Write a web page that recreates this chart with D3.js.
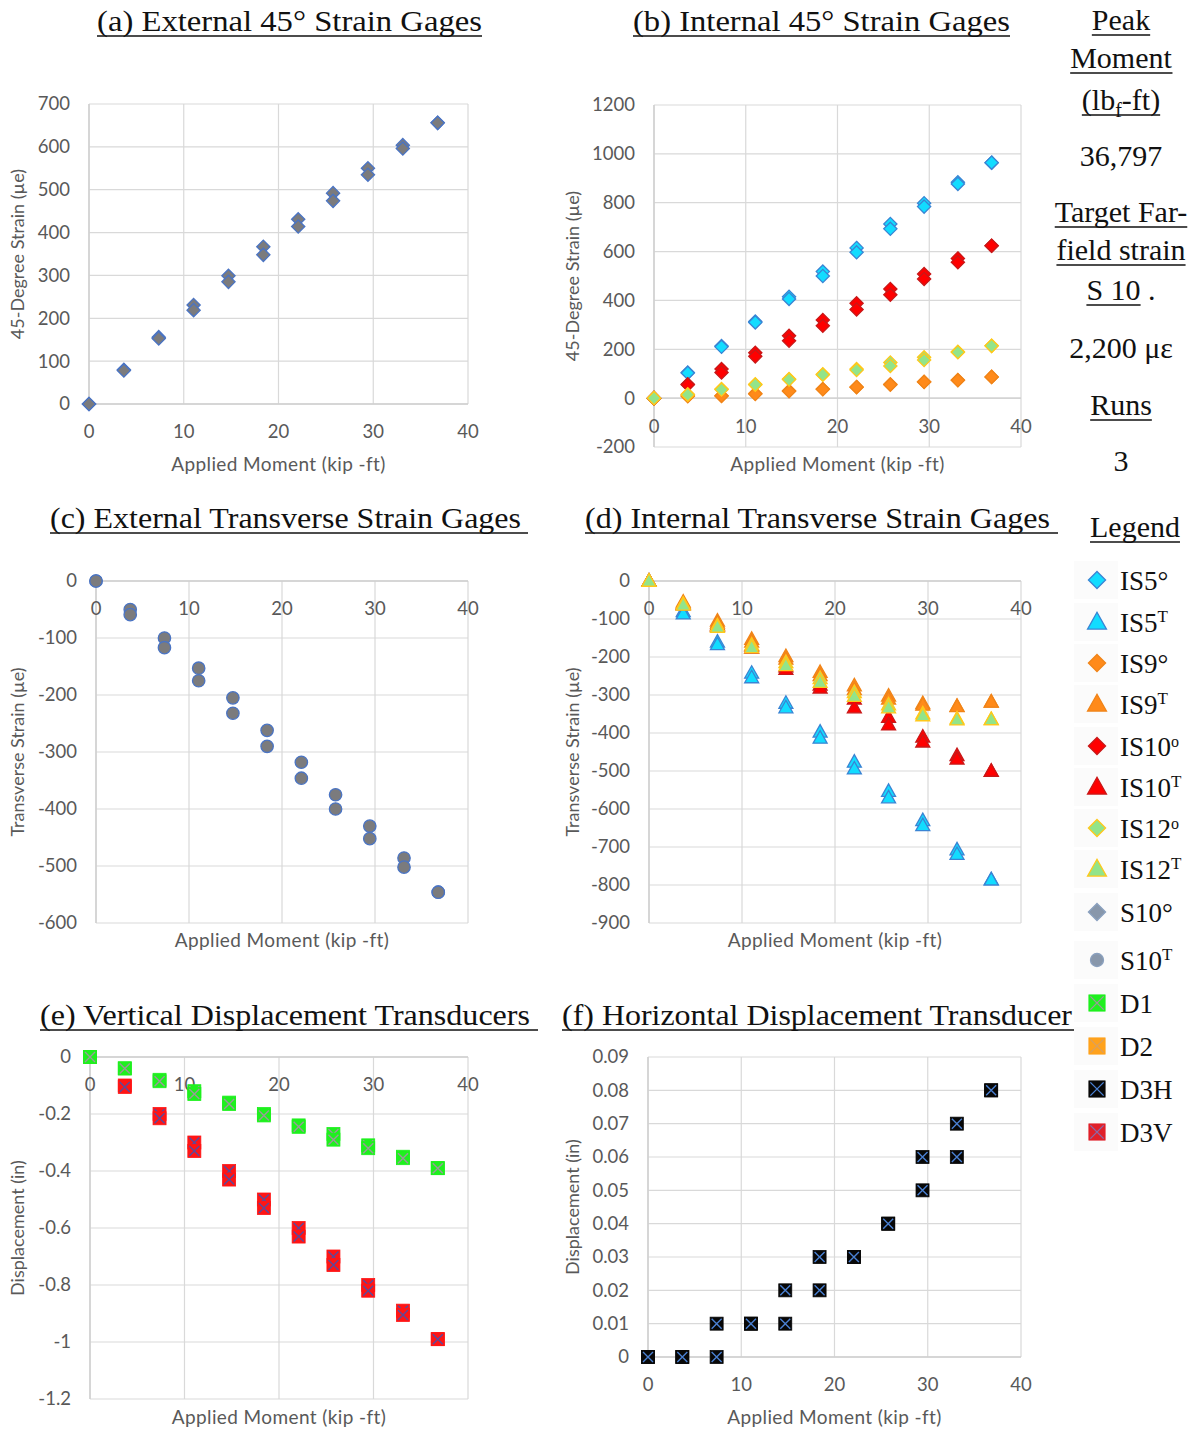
<!DOCTYPE html>
<html>
<head>
<meta charset="utf-8">
<script src="https://cdnjs.cloudflare.com/ajax/libs/d3/7.8.5/d3.min.js"></script>
<style>
  body { margin: 0; background: #fff; }
  svg text { font-kerning: normal; }
</style>
</head>
<body>
<svg id="fig" width="1201" height="1429"></svg>
<script>
// Applied moment at each load step (kip-ft)
const moment = [0, 3.68, 7.36, 11.04, 14.72, 18.40, 22.08, 25.76, 29.44, 33.12, 36.80];
const xTicks = [0, 10, 20, 30, 40];

// (a) external 45-degree gage S10, two runs (µe)
const s10DiagRun1 = [0, 80, 156, 231, 299, 367, 431, 492, 550, 604, 656];
const s10DiagRun2 = [0, 78, 153, 219, 285, 348, 414, 474, 535, 596, 656];

// (b) internal 45-degree gages (µe)
const is5DiagRun1  = [0, 105, 213, 314, 415, 518, 615, 713, 798, 884, 964];
const is5DiagRun2  = [0, 103, 210, 310, 406, 500, 597, 693, 784, 877, 964];
const is9DiagRun1  = [0, 10, 10, 19, 30, 37, 46, 57, 67, 74, 87];
const is9DiagRun2  = [0, 8, 9, 17, 28, 36, 45, 55, 66, 73, 87];
const is10DiagRun1 = [0, 57, 119, 186, 255, 320, 388, 447, 508, 572, 624];
const is10DiagRun2 = [0, 55, 105, 171, 235, 296, 363, 423, 488, 556, 624];
const is12DiagRun1 = [0, 16, 37, 57, 78, 98, 119, 146, 167, 190, 214];
const is12DiagRun2 = [0, 14, 35, 55, 76, 96, 115, 132, 156, 188, 214];

// (c) external transverse gage S10 (µe)
const s10TransRun1 = [0, -50, -100, -153, -205, -262, -318, -375, -430, -486, -546];
const s10TransRun2 = [0, -59, -117, -175, -232, -290, -346, -400, -452, -502, -546];

// (d) internal transverse gages (µe)
const is5TransRun1  = [0, -80, -160, -242, -321, -397, -476, -553, -630, -707, -786];
const is5TransRun2  = [0, -86, -167, -254, -333, -413, -494, -570, -643, -719, -786];
const is9TransRun1  = [0, -55, -105, -153, -198, -240, -275, -302, -322, -329, -318];
const is9TransRun2  = [0, -58, -110, -160, -205, -248, -285, -310, -326, -330, -318];
const is10TransRun1 = [0, -60, -115, -170, -225, -273, -310, -358, -410, -459, -500];
const is10TransRun2 = [0, -62, -118, -176, -232, -281, -333, -378, -423, -468, -500];
const is12TransRun1 = [0, -60, -117, -168, -214, -256, -293, -325, -349, -362, -364];
const is12TransRun2 = [0, -63, -121, -175, -222, -266, -303, -333, -354, -365, -364];

// (e) vertical displacement transducers (in)
const d1Run1  = [0, -0.04, -0.08, -0.12, -0.16, -0.20, -0.24, -0.27, -0.31, -0.35, -0.39];
const d1Run2  = [0, -0.04, -0.085, -0.13, -0.165, -0.205, -0.245, -0.29, -0.32, -0.355, -0.39];
const d3vRun1 = [0, -0.10, -0.20, -0.30, -0.40, -0.50, -0.60, -0.70, -0.80, -0.89, -0.99];
const d3vRun2 = [0, -0.105, -0.215, -0.33, -0.43, -0.53, -0.63, -0.73, -0.82, -0.905, -0.99];

// (f) horizontal displacement transducer (in)
const d3hRun1 = [0, 0, 0, 0.01, 0.01, 0.02, 0.03, 0.04, 0.05, 0.06, 0.08];
const d3hRun2 = [0, 0, 0.01, 0.01, 0.02, 0.03, 0.03, 0.04, 0.06, 0.07, 0.08];

// Summary column
const infoLines = [
  {text: "Peak", u: true},
  {text: "Moment", u: true},
  {text: "(lbf-ft)", u: true},
  {text: "36,797", u: false},
  {text: "Target Far-", u: true},
  {text: "field strain", u: true},
  {text: "S 10 .", u: true},
  {text: "2,200 με", u: false},
  {text: "Runs", u: true},
  {text: "3", u: false}
];

// Marker styles
const sty = {
  IS5:  {fill: "#12dcff", stroke: "#3a84d4"},
  IS9:  {fill: "#ff8a1a", stroke: "#f08418"},
  IS10: {fill: "#ff0000", stroke: "#c81818"},
  IS12: {fill: "#92e48a", stroke: "#ffc81a"},
  S10:  {fill: "#7b7b7d", stroke: "#4a74c4"},
  S10L: {fill: "#8897ab", stroke: "#8aa0bf"},
  D1:   {fill: "#1ef01e", stroke: "#9a9a9a"},
  D2:   {fill: "#ffa21c", stroke: "#d9a060"},
  D3H:  {fill: "#080808", stroke: "#4a80d2"},
  D3V:  {fill: "#ff1414", stroke: "#5a4a9c"}
};

const SANS = "Lato, 'Open Sans', sans-serif";
const SERIF = "'Liberation Serif', 'DejaVu Serif', serif";
const GRID = "#d9d9d9";
const LABEL = "#595959";

const svg = d3.select("#fig");

// marker shapes centred on the origin
function diamondPath(s) { return `M0,${-s}L${s},0L0,${s}L${-s},0Z`; }
function trianglePath(w, h) { return `M0,${-h * 0.58}L${w / 2},${h * 0.42}L${-w / 2},${h * 0.42}Z`; }

function drawMarker(g, shape, st, scale) {
  const k = scale || 1;
  if (shape === "diamond") {
    g.append("path").attr("d", diamondPath(6.6 * k)).attr("fill", st.fill)
      .attr("stroke", st.stroke).attr("stroke-width", 1.3);
  } else if (shape === "triangle") {
    g.append("path").attr("d", trianglePath(14 * k, 12.5 * k)).attr("fill", st.fill)
      .attr("stroke", st.stroke).attr("stroke-width", 1.3);
  } else if (shape === "circle") {
    g.append("circle").attr("r", 6.2 * k).attr("fill", st.fill)
      .attr("stroke", st.stroke).attr("stroke-width", 1.3);
  } else if (shape === "squareX") {
    const h = 6.5 * k;
    g.append("rect").attr("x", -h).attr("y", -h).attr("width", 2 * h).attr("height", 2 * h)
      .attr("fill", st.fill).attr("stroke", st.fill).attr("stroke-width", 0.8);
    g.append("path").attr("d", `M${-h + 1.5},${-h + 1.5}L${h - 1.5},${h - 1.5}M${h - 1.5},${-h + 1.5}L${-h + 1.5},${h - 1.5}`)
      .attr("stroke", st.stroke).attr("stroke-width", 1.4).attr("fill", "none");
  }
}

function fmt(v) { return String(+v.toFixed(3)); }

function panel(o) {
  const x = d3.scaleLinear().domain([0, 40]).range([o.L, o.R]);
  const y = d3.scaleLinear().domain(o.yDomain).range([o.B, o.T]);
  const g = svg.append("g");
  const yTicks = d3.range(0, Math.round((o.yDomain[1] - o.yDomain[0]) / o.yStep) + 1)
    .map(i => +(o.yDomain[0] + i * o.yStep).toFixed(4));

  // grid
  g.selectAll(".gy").data(yTicks).join("line")
    .attr("x1", o.L).attr("x2", o.R).attr("y1", d => y(d)).attr("y2", d => y(d))
    .attr("stroke", GRID).attr("stroke-width", 1.2);
  g.selectAll(".gx").data(xTicks).join("line")
    .attr("x1", d => x(d)).attr("x2", d => x(d)).attr("y1", o.T).attr("y2", o.B)
    .attr("stroke", GRID).attr("stroke-width", 1.2);
  // axis lines
  g.append("line").attr("x1", o.L).attr("x2", o.R).attr("y1", y(0)).attr("y2", y(0))
    .attr("stroke", "#cfcfcf").attr("stroke-width", 1.4);
  g.append("line").attr("x1", x(0)).attr("x2", x(0)).attr("y1", o.T).attr("y2", o.B)
    .attr("stroke", "#cfcfcf").attr("stroke-width", 1.4);

  // tick labels
  g.selectAll(".ty").data(yTicks).join("text")
    .attr("x", o.L - 19).attr("y", d => y(d)).attr("dy", "0.35em")
    .attr("text-anchor", "end").attr("font-family", SANS).attr("font-size", 18.5)
    .attr("fill", LABEL).text(fmt);
  g.selectAll(".tx").data(xTicks).join("text")
    .attr("x", d => x(d)).attr("y", y(0) + 28).attr("dy", "0.35em")
    .attr("text-anchor", "middle").attr("font-family", SANS).attr("font-size", 18.5)
    .attr("fill", LABEL).text(d => d);

  // axis titles
  g.append("text").attr("x", (o.L + o.R) / 2).attr("y", o.xTitleY).attr("dy", "0.35em")
    .attr("text-anchor", "middle").attr("font-family", SANS).attr("font-size", 19)
    .attr("letter-spacing", 0.4).attr("fill", LABEL).text("Applied Moment (kip -ft)");
  g.append("text")
    .attr("transform", `translate(${o.yTitleX},${(o.T + o.B) / 2}) rotate(-90)`)
    .attr("dy", "0.35em").attr("text-anchor", "middle").attr("font-family", SANS)
    .attr("font-size", 18).attr("fill", LABEL).text(o.yTitle);

  // series
  o.series.forEach(s => {
    const pts = s.values.map((v, i) => ({x: moment[i], y: v})).filter(p => p.y !== null);
    g.append("g").selectAll("g").data(pts).join("g")
      .attr("transform", p => `translate(${x(p.x)},${y(p.y)})`)
      .each(function () { drawMarker(d3.select(this), s.shape, s.style); });
  });

  // panel title, underlined
  svg.append("text").attr("x", o.titleX).attr("y", o.titleY)
    .attr("font-family", SERIF).attr("font-size", 30).attr("fill", "#111")
    .attr("textLength", o.titleW).attr("lengthAdjust", "spacingAndGlyphs").text(o.title);
  svg.append("line").attr("x1", o.titleX).attr("x2", o.titleX + o.titleW + (o.titleExtra || 0))
    .attr("y1", o.titleY + 5).attr("y2", o.titleY + 5).attr("stroke", "#111").attr("stroke-width", 1.6);
}

panel({
  L: 89, R: 468, T: 104, B: 404, yDomain: [0, 700], yStep: 100,
  xTitleY: 464, yTitleX: 18, yTitle: "45-Degree Strain (µe)",
  title: "(a) External 45° Strain Gages", titleX: 97, titleY: 31, titleW: 385,
  series: [
    {values: s10DiagRun1, shape: "diamond", style: sty.S10},
    {values: s10DiagRun2, shape: "diamond", style: sty.S10}
  ]
});

panel({
  L: 654, R: 1021, T: 105, B: 447, yDomain: [-200, 1200], yStep: 200,
  xTitleY: 464, yTitleX: 573, yTitle: "45-Degree Strain (µe)",
  title: "(b) Internal 45° Strain Gages", titleX: 633, titleY: 31, titleW: 377,
  series: [
    {values: is5DiagRun1, shape: "diamond", style: sty.IS5},
    {values: is5DiagRun2, shape: "diamond", style: sty.IS5},
    {values: is9DiagRun1, shape: "diamond", style: sty.IS9},
    {values: is9DiagRun2, shape: "diamond", style: sty.IS9},
    {values: is10DiagRun1, shape: "diamond", style: sty.IS10},
    {values: is10DiagRun2, shape: "diamond", style: sty.IS10},
    {values: is12DiagRun1, shape: "diamond", style: sty.IS12},
    {values: is12DiagRun2, shape: "diamond", style: sty.IS12}
  ]
});

panel({
  L: 96, R: 468, T: 581, B: 923, yDomain: [-600, 0], yStep: 100,
  xTitleY: 940, yTitleX: 18, yTitle: "Transverse Strain (µe)",
  title: "(c) External Transverse Strain Gages", titleX: 50, titleY: 528, titleW: 471, titleExtra: 7,
  series: [
    {values: s10TransRun1, shape: "circle", style: sty.S10},
    {values: s10TransRun2, shape: "circle", style: sty.S10}
  ]
});

panel({
  L: 649, R: 1021, T: 581, B: 923, yDomain: [-900, 0], yStep: 100,
  xTitleY: 940, yTitleX: 573, yTitle: "Transverse Strain (µe)",
  title: "(d) Internal Transverse Strain Gages", titleX: 585, titleY: 528, titleW: 465, titleExtra: 8,
  series: [
    {values: is5TransRun1, shape: "triangle", style: sty.IS5},
    {values: is5TransRun2, shape: "triangle", style: sty.IS5},
    {values: is10TransRun1, shape: "triangle", style: sty.IS10},
    {values: is10TransRun2, shape: "triangle", style: sty.IS10},
    {values: is9TransRun1, shape: "triangle", style: sty.IS9},
    {values: is9TransRun2, shape: "triangle", style: sty.IS9},
    {values: is12TransRun1, shape: "triangle", style: sty.IS12},
    {values: is12TransRun2, shape: "triangle", style: sty.IS12}
  ]
});

panel({
  L: 90, R: 468, T: 1057, B: 1399, yDomain: [-1.2, 0], yStep: 0.2,
  xTitleY: 1417, yTitleX: 18, yTitle: "Displacement (in)",
  title: "(e) Vertical Displacement Transducers", titleX: 40, titleY: 1025, titleW: 490, titleExtra: 8,
  series: [
    {values: d3vRun1, shape: "squareX", style: sty.D3V},
    {values: d3vRun2, shape: "squareX", style: sty.D3V},
    {values: d1Run1, shape: "squareX", style: sty.D1},
    {values: d1Run2, shape: "squareX", style: sty.D1}
  ]
});

panel({
  L: 648, R: 1021, T: 1057, B: 1357, yDomain: [0, 0.09], yStep: 0.01,
  xTitleY: 1417, yTitleX: 573, yTitle: "Displacement (in)",
  title: "(f) Horizontal Displacement Transducer", titleX: 562, titleY: 1025, titleW: 510, titleExtra: 8,
  series: [
    {values: d3hRun1, shape: "squareX", style: sty.D3H},
    {values: d3hRun2, shape: "squareX", style: sty.D3H}
  ]
});

// Summary column on the right
const infoBase = [30, 68, 110, 166, 222, 260, 300, 358, 415, 471];
infoLines.forEach((ln, i) => {
  const t = svg.append("text").attr("x", 1121).attr("y", infoBase[i])
    .attr("text-anchor", "middle").attr("font-family", SERIF).attr("font-size", 30).attr("fill", "#111");
  if (ln.text === "(lbf-ft)") {
    t.append("tspan").text("(lb");
    t.append("tspan").attr("font-size", 20).attr("dy", 7).text("f");
    t.append("tspan").attr("dy", -7).text("-ft)");
  } else if (ln.text === "S 10 .") {
    t.append("tspan").text("S 10");
    t.append("tspan").text(" .");
  } else {
    t.text(ln.text);
  }
  if (ln.u) {
    const bb = t.node().getBBox();
    let x1 = bb.x, x2 = bb.x + bb.width;
    if (ln.text === "S 10 .") {
      const first = t.select("tspan").node();
      x2 = x1 + first.getComputedTextLength();
    }
    svg.append("line").attr("x1", x1).attr("x2", x2)
      .attr("y1", infoBase[i] + 5).attr("y2", infoBase[i] + 5)
      .attr("stroke", "#111").attr("stroke-width", 1.6);
  }
});

// Legend
const legendTitle = svg.append("text").attr("x", 1135).attr("y", 537).attr("text-anchor", "middle")
  .attr("font-family", SERIF).attr("font-size", 30).attr("fill", "#111").text("Legend");
{
  const bb = legendTitle.node().getBBox();
  svg.append("line").attr("x1", bb.x).attr("x2", bb.x + bb.width).attr("y1", 542).attr("y2", 542)
    .attr("stroke", "#111").attr("stroke-width", 1.6);
}

const legendItems = [
  {name: "IS5", sup: "°", shape: "diamond", style: sty.IS5},
  {name: "IS5", sup: "T", shape: "triangle", style: sty.IS5},
  {name: "IS9", sup: "°", shape: "diamond", style: sty.IS9},
  {name: "IS9", sup: "T", shape: "triangle", style: sty.IS9},
  {name: "IS10", sup: "o", shape: "diamond", style: sty.IS10},
  {name: "IS10", sup: "T", shape: "triangle", style: sty.IS10},
  {name: "IS12", sup: "o", shape: "diamond", style: sty.IS12},
  {name: "IS12", sup: "T", shape: "triangle", style: sty.IS12},
  {name: "S10", sup: "°", shape: "diamond", style: sty.S10L},
  {name: "S10", sup: "T", shape: "circle", style: sty.S10L},
  {name: "D1", sup: "", shape: "squareX", style: sty.D1},
  {name: "D2", sup: "", shape: "squareX", style: sty.D2},
  {name: "D3H", sup: "", shape: "squareX", style: sty.D3H},
  {name: "D3V", sup: "", shape: "squareX", style: {fill: "#e0202a", stroke: "#8a6aa8"}}
];
const legendY = [580, 622, 663, 704, 746, 787, 828, 869, 912, 960, 1003, 1046, 1089, 1132];
const legendScale = {diamond: 1.3, triangle: 1.35, circle: 1.05, squareX: 1.25};

legendItems.forEach((it, i) => {
  const cy = legendY[i];
  svg.append("rect").attr("x", 1074).attr("y", cy - 19).attr("width", 44).attr("height", 38)
    .attr("fill", "#fbfbfb");
  const mg = svg.append("g").attr("transform", `translate(1097,${cy})`);
  drawMarker(mg, it.shape, it.style, legendScale[it.shape]);
  const t = svg.append("text").attr("x", 1120).attr("y", cy + 10)
    .attr("font-family", SERIF).attr("font-size", 27).attr("fill", "#111");
  t.append("tspan").text(it.name);
  if (it.sup === "°") {
    t.append("tspan").text("°");
  } else if (it.sup === "o") {
    t.append("tspan").attr("font-size", 16).attr("dy", -9).text("o");
  } else if (it.sup === "T") {
    t.append("tspan").attr("font-size", 17).attr("dy", -10).text("T");
  }
});
</script>
</body>
</html>
